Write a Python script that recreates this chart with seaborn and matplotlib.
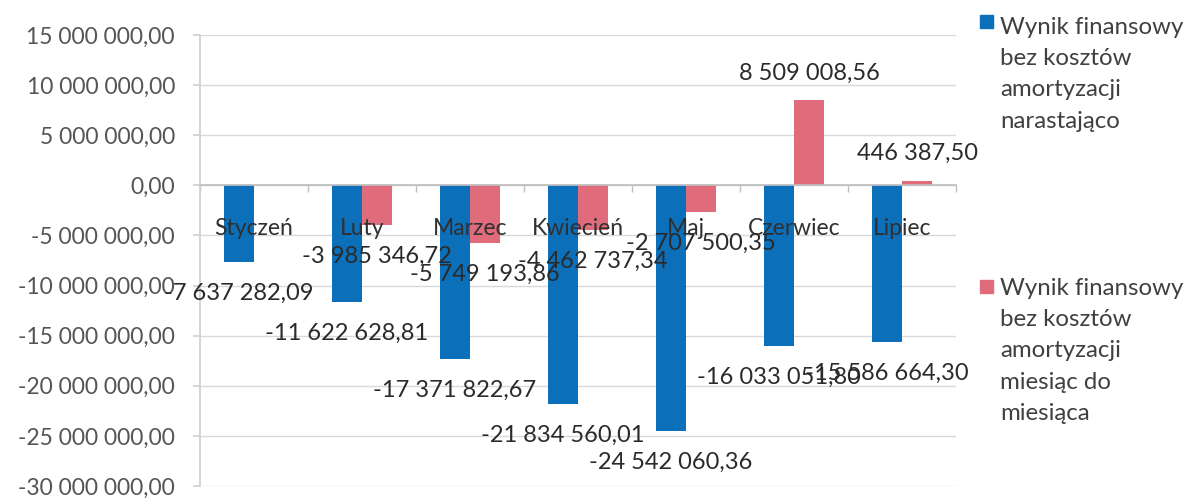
import matplotlib
matplotlib.use("Agg")
import matplotlib.pyplot as plt
from matplotlib.patches import Rectangle
from matplotlib.ticker import FuncFormatter, FixedLocator
import numpy as np
import pandas as pd
import seaborn as sns

months = ["Styczeń", "Luty", "Marzec", "Kwiecień", "Maj", "Czerwiec", "Lipiec"]
cumulative = [-7637282.09, -11622628.81, -17371822.67, -21834560.01,
              -24542060.36, -16033051.80, -15586664.30]
monthly = [None, -3985346.72, -5749193.86, -4462737.34,
           -2707500.35, 8509008.56, 446387.50]
series_names = [
    "Wynik finansowy\nbez kosztów\namortyzacji\nnarastająco",
    "Wynik finansowy\nbez kosztów\namortyzacji\nmiesiąc do\nmiesiąca",
]
y_ticks = [15e6, 10e6, 5e6, 0, -5e6, -10e6, -15e6, -20e6, -25e6, -30e6]

BLUE = "#0b70b9"
PINK = "#e06b7b"
FONT = "Lato"


def pl_number(v):
    s = f"{abs(v):,.2f}".replace(",", " ").replace(".", ",")
    return ("-" if v < 0 else "") + s


sns.set_theme(style="white")
plt.rcParams["font.family"] = [FONT, "DejaVu Sans"]

df = pd.DataFrame({
    "miesiac": months * 2,
    "seria": [series_names[0]] * 7 + [series_names[1]] * 7,
    "wartosc": cumulative + [np.nan if v is None else v for v in monthly],
})

fig = plt.figure(figsize=(12.01, 4.98), dpi=100)
ax = fig.add_axes([200 / 1201, 1 - 486 / 498, 756 / 1201, 451 / 498])

sns.barplot(data=df, x="miesiac", y="wartosc", hue="seria", order=months,
            hue_order=series_names, palette=[BLUE, PINK], width=0.556,
            gap=0, saturation=1, errorbar=None, legend=False, ax=ax,
            linewidth=0)

ax.set_ylim(-30e6, 15e6)
ax.set_xlim(-0.5, len(months) - 0.5)
ax.set_yticks(y_ticks)
ax.yaxis.set_major_formatter(FuncFormatter(lambda v, p: pl_number(v)))
ax.set_xlabel("")
ax.set_ylabel("")

# horizontal gridlines behind the bars
ax.grid(axis="y", color="#d9d9d9", linewidth=1)
ax.set_axisbelow(True)

# category axis drawn along the zero line
for side in ["top", "right"]:
    ax.spines[side].set_visible(False)
ax.spines["bottom"].set_position(("data", 0))
ax.spines["bottom"].set_color("#bfbfbf")
ax.spines["left"].set_color("#d0d0d0")
ax.xaxis.set_minor_locator(FixedLocator(np.arange(-0.5, len(months), 1.0)))
ax.tick_params(axis="x", which="major", length=0, labelbottom=False)
ax.tick_params(axis="x", which="minor", length=5, color="#bfbfbf",
               direction="out", bottom=True)
ax.tick_params(axis="y", length=5, color="#d0d0d0", left=True,
               labelsize=16.5, labelcolor="#555555", pad=13)

# month names sit just under the zero line, drawn over the bars
for i, name in enumerate(months):
    ax.annotate(name, xy=(i, 0), xytext=(0, -31), textcoords="offset points",
                ha="center", va="center", fontsize=16.5, color="#303030",
                zorder=6)

# value labels at the bar ends, matched to bars by their x position
for cont, vals in zip(ax.containers, [cumulative, monthly]):
    for bar in cont.patches:
        if bar is None:
            continue
        xc = bar.get_x() + bar.get_width() / 2
        v = vals[int(round(xc))]
        if v is None:
            continue
        off = -15 if v < 0 else 12
        ax.annotate(pl_number(v), xy=(xc, v), xytext=(0, off),
                    textcoords="offset points", ha="center",
                    va="top" if v < 0 else "bottom", fontsize=17,
                    color="#2a2a2a", zorder=5)

# legend to the right of the plot
entries = [(BLUE, 15, 17), (PINK, 280, 278)]
for (color, ysq, ytxt), name in zip(entries, series_names):
    fig.patches.append(Rectangle((980 / 1201, 1 - (ysq + 13) / 498),
                                 13 / 1201, 13 / 498, color=color,
                                 transform=fig.transFigure, figure=fig))
    fig.text(1000 / 1201, 1 - ytxt / 498, name, fontsize=17.3,
             color="#404040", va="top", ha="left", linespacing=1.6)

fig.savefig("out.png", dpi=100)
